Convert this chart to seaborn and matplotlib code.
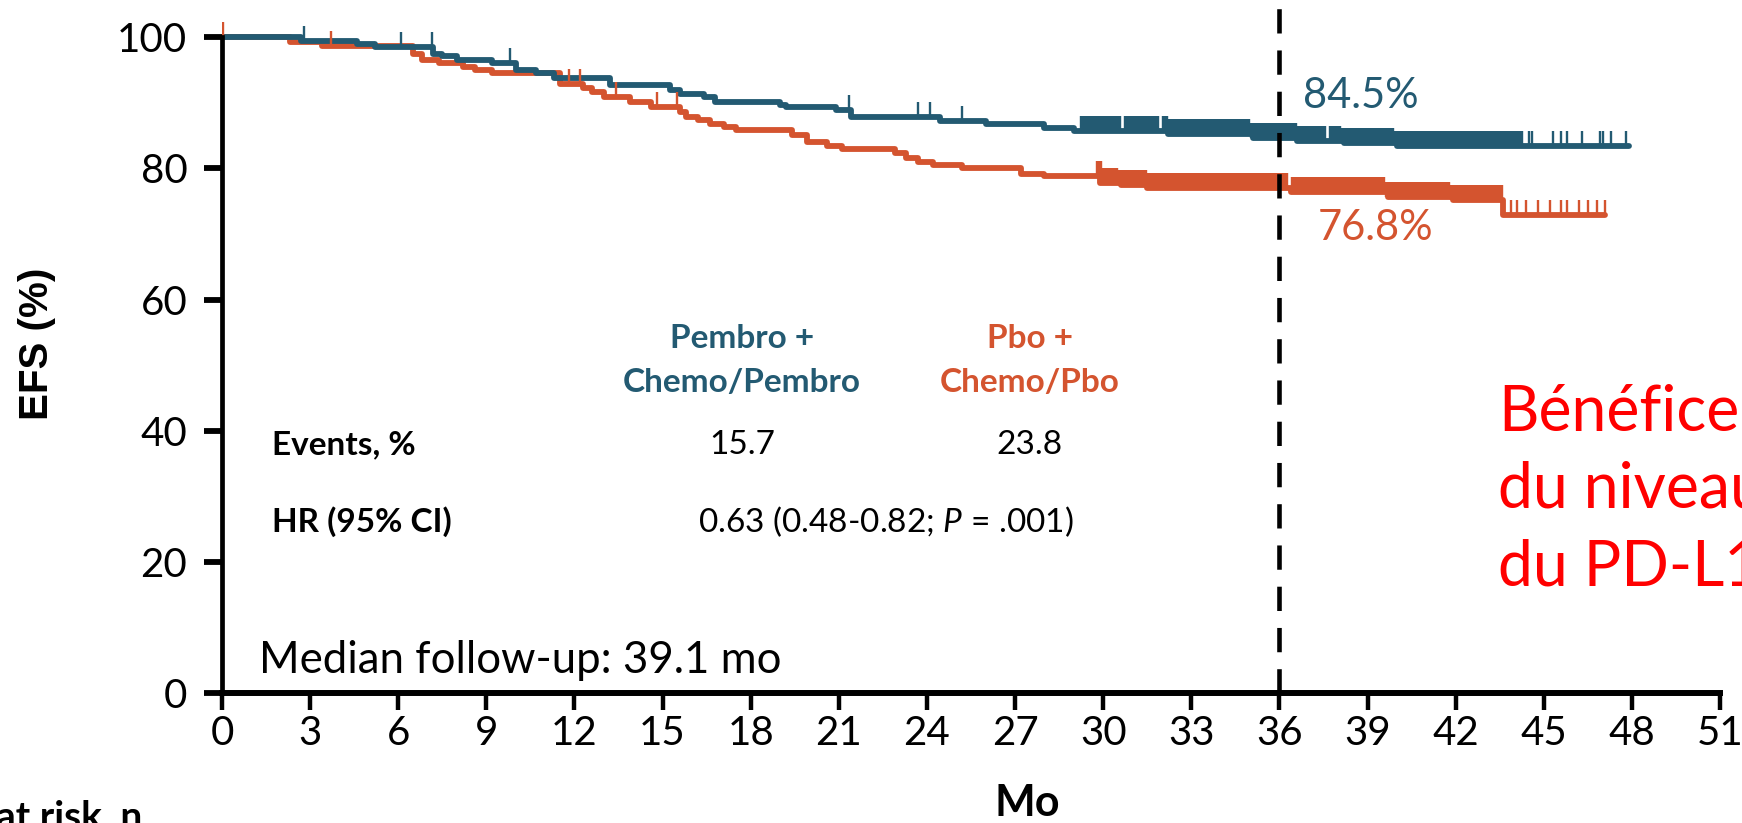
import numpy as np
import pandas as pd
import matplotlib
matplotlib.use("Agg")
import matplotlib.pyplot as plt
import seaborn as sns


# Courbes EFS (mois, % sans événement)
pembro_t = [0, 2.7, 4.6, 5.2, 7.2, 7.5, 8.0, 9.2, 10.0, 10.7, 11.3, 13.2, 15.25, 15.6, 16.4,
            16.8, 19.0, 19.2, 20.9, 21.4, 24.45, 26.0, 28.0, 29.0, 32.2, 35.1, 36.6, 38.2, 40.0, 47.9]
pembro_s = [100, 99.4, 98.9, 98.5, 97.5, 97.1, 96.5, 96.0, 95.0, 94.5, 93.7, 92.7, 91.9, 91.4, 90.9,
            90.1, 89.7, 89.4, 88.9, 87.9, 87.2, 86.7, 86.2, 85.7, 85.2, 84.7, 84.2, 83.9, 83.4, 83.4]

pbo_t = [0, 2.3, 3.4, 6.5, 6.8, 7.4, 8.2, 8.6, 9.2, 11.5, 12.3, 12.6, 13.0, 13.9, 14.6, 15.6, 15.8,
         16.2, 16.6, 17.1, 17.5, 19.4, 19.9, 20.6, 21.1, 22.9, 23.3, 23.7, 24.2, 25.2, 27.2, 28.0,
         29.9, 30.6, 31.5, 36.4, 39.7, 41.9, 43.6, 47.1]
pbo_s = [100, 99.3, 98.7, 97.5, 96.5, 96.0, 95.5, 95.0, 94.5, 92.9, 92.2, 91.7, 90.9, 90.1, 89.4, 88.6,
         87.9, 87.3, 86.8, 86.3, 85.8, 85.1, 84.0, 83.4, 83.0, 82.3, 81.5, 81.0, 80.5, 80.0, 79.2, 78.9,
         77.8, 77.4, 77.0, 76.4, 75.6, 75.1, 72.9, 72.9]

# Censures (mois)
pembro_cens = [2.8, 6.1, 7.15, 9.8, 21.35, 23.7, 24.1, 25.2,
               44.5, 44.6, 45.3, 45.6, 45.8, 46.3, 46.9, 47.0, 47.3, 47.8]
pembro_cens_dense = [29.3, 29.5, 29.7, 29.9, 30.1, 30.3, 30.5, 30.8, 31.0, 31.2, 31.4, 31.6, 31.8,
                     32.1, 32.3, 32.5, 32.7, 32.9, 33.1, 33.3, 33.5, 33.7, 33.9, 34.1, 34.3, 34.5,
                     34.7, 34.9, 35.1, 35.3, 35.5, 35.7, 35.9, 36.1, 36.3, 36.5, 36.7, 36.9, 37.1,
                     37.3, 37.5, 37.8, 38.0, 38.2, 38.4, 38.6, 38.8, 39.0, 39.2, 39.4, 39.6, 39.8,
                     40.0, 40.2, 40.4, 40.6, 40.8, 41.0, 41.2, 41.4, 41.6, 41.8, 42.0, 42.2, 42.4,
                     42.6, 42.8, 43.0, 43.2, 43.4, 43.6, 43.8, 44.0, 44.2]
pbo_cens = [0.05, 3.7, 11.8, 12.2, 13.4, 14.8, 15.5,
            43.9, 44.1, 44.4, 44.8, 45.2, 45.6, 45.8, 46.2, 46.5, 46.8, 47.1]
pbo_cens_dense = [29.85, 30.0, 30.2, 30.4, 30.6, 30.8, 31.0, 31.2, 31.4, 31.6, 31.8, 32.0, 32.2,
                  32.4, 32.6, 32.8, 33.0, 33.2, 33.4, 33.6, 33.8, 34.0, 34.2, 34.4, 34.6, 34.8,
                  35.0, 35.2, 35.4, 35.6, 35.8, 36.0, 36.2, 36.5, 36.7, 36.9, 37.1, 37.3, 37.5,
                  37.7, 37.9, 38.1, 38.3, 38.5, 38.7, 38.9, 39.1, 39.3, 39.5, 39.7, 39.9, 40.1,
                  40.3, 40.5, 40.7, 40.9, 41.1, 41.3, 41.5, 41.7, 41.9, 42.1, 42.3, 42.5, 42.7,
                  42.9, 43.1, 43.3, 43.5]

x_ticks = [0, 3, 6, 9, 12, 15, 18, 21, 24, 27, 30, 33, 36, 39, 42, 45, 48, 51]
y_ticks = [0, 20, 40, 60, 80, 100]
landmark = 36
landmark_labels = ["84.5%", "76.8%"]
events_pct = ["15.7", "23.8"]

BLUE = "#235a72"
ORANGE = "#d4542f"

sns.set_theme(style="ticks", rc={"axes.edgecolor": "black", "xtick.color": "black",
                                 "ytick.color": "black", "text.color": "black"})
plt.rcParams["font.family"] = ["Lato", "DejaVu Sans"]
plt.rcParams["mathtext.fontset"] = "custom"
plt.rcParams["mathtext.rm"] = "Lato"
plt.rcParams["mathtext.it"] = "Lato:italic"


def step_value(times, surv, t):
    # valeur de la courbe en escalier au temps t
    i = np.searchsorted(np.asarray(times), np.asarray(t), side="right") - 1
    return np.asarray(surv)[i]


curves = pd.concat([
    pd.DataFrame({"mois": pbo_t, "efs": pbo_s, "bras": "pbo"}),
    pd.DataFrame({"mois": pembro_t, "efs": pembro_s, "bras": "pembro"}),
], ignore_index=True)

fig = plt.figure(figsize=(17.42, 8.23), dpi=100)
ax = fig.add_axes([222 / 1742, 130 / 823, 1498 / 1742, 686 / 823])

sns.lineplot(data=curves, x="mois", y="efs", hue="bras", hue_order=["pbo", "pembro"],
             palette={"pembro": BLUE, "pbo": ORANGE}, drawstyle="steps-post",
             estimator=None, linewidth=4.2, legend=False, ax=ax)

for t, s, cens, dense, col in [(pbo_t, pbo_s, pbo_cens, pbo_cens_dense, ORANGE),
                               (pembro_t, pembro_s, pembro_cens, pembro_cens_dense, BLUE)]:
    ax.plot(cens, step_value(t, s, cens), ls="none", marker=2, ms=10.5, mew=1.7, color=col)
    ax.plot(dense, step_value(t, s, dense), ls="none", marker=2, ms=10.5, mew=4.6, color=col)

ax.axvline(landmark, ymin=0, ymax=1, color="black", lw=3.3, dashes=(5.3, 3.7), zorder=5)

ax.set_xlim(0, 51)
ax.set_ylim(0, 104.6)
ax.set_xticks(x_ticks)
ax.set_yticks(y_ticks)
ax.set_xlabel("")
ax.set_ylabel("")
sns.despine(ax=ax)
ax.spines["left"].set_linewidth(3.4)
ax.spines["left"].set_bounds(0, 100)
ax.spines["bottom"].set_linewidth(4.3)
ax.tick_params(axis="x", length=12, width=3.2, labelsize=29, pad=4)
ax.tick_params(axis="y", length=13, width=4.2, labelsize=29, pad=12)

# étiquettes à 36 mois
ax.text(36.8, 91.0, landmark_labels[0], color=BLUE, fontsize=30, va="center", ha="left")
ax.text(37.3, 70.9, landmark_labels[1], color=ORANGE, fontsize=30, va="center", ha="left")

# tableau
ax.text(17.7, 54.1, "Pembro +", color=BLUE, fontsize=24, fontweight="bold", ha="center", va="center")
ax.text(17.7, 47.4, "Chemo/Pembro", color=BLUE, fontsize=24, fontweight="bold", ha="center", va="center")
ax.text(27.5, 54.1, "Pbo +", color=ORANGE, fontsize=24, fontweight="bold", ha="center", va="center")
ax.text(27.5, 47.4, "Chemo/Pbo", color=ORANGE, fontsize=24, fontweight="bold", ha="center", va="center")
ax.text(1.7, 37.8, "Events, %", fontsize=24, fontweight="bold", ha="left", va="center")
ax.text(17.7, 37.8, events_pct[0], fontsize=24, ha="center", va="center")
ax.text(27.5, 37.8, events_pct[1], fontsize=24, ha="center", va="center")
ax.text(1.7, 26.1, "HR (95% CI)", fontsize=24, fontweight="bold", ha="left", va="center")
ax.text(22.6, 26.1, r"0.63 (0.48-0.82; $\mathit{P}$ = .001)", fontsize=24, ha="center", va="center")
ax.text(1.26, 5.0, "Median follow-up: 39.1 mo", fontsize=31.5, ha="left", va="center")

# titres des axes
fig.text(37 / 1742, 1 - 344 / 823, "EFS (%)", rotation=90, ha="center", va="center",
         fontsize=29, fontweight="bold", family=["Liberation Sans", "DejaVu Sans"])
fig.text(1027 / 1742, 1 - 803 / 823, "Mo", ha="center", va="center", fontsize=31, fontweight="bold")
fig.text(-4 / 1742, -5 / 823, "at risk, n", ha="left", va="baseline", fontsize=28, fontweight="bold")

# message
for y_px, line in [(413, "Bénéfice"), (490, "du niveau"), (567, "du PD-L1")]:
    fig.text(1498 / 1742, 1 - y_px / 823, line, color="red", fontsize=45, ha="left", va="center")

fig.savefig("out.png", dpi=100)
